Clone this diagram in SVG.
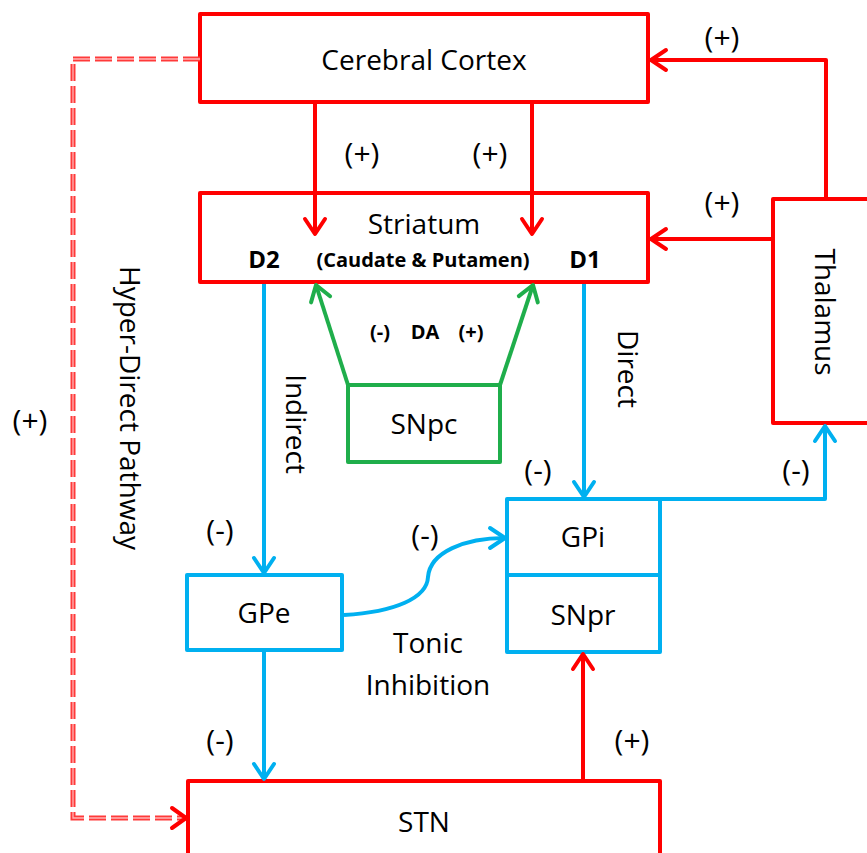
<svg xmlns="http://www.w3.org/2000/svg" width="867" height="853" viewBox="0 0 867 853">
<style>
.t{font-family:"Open Sans","Liberation Sans",sans-serif;fill:#000;text-anchor:middle}
.big{font-size:28px}
.sg{font-size:30px}
.b{font-weight:bold}
.red{stroke:#ff0000}
.blue{stroke:#00b0f0}
.green{stroke:#1fae4b}
.box{fill:#fff;stroke-width:4;stroke-linejoin:round}
.ln{fill:none;stroke-width:4;stroke-linejoin:round}
</style>
<defs>
<marker id="ar" markerUnits="userSpaceOnUse" markerWidth="40" markerHeight="40" refX="0" refY="0" viewBox="-20 -20 40 40" orient="auto" overflow="visible"><path d="M-15,-10 L0,0 L-15,10" fill="none" stroke="#ff0000" stroke-width="4" stroke-linecap="round" stroke-linejoin="round"/></marker>
<marker id="ab" markerUnits="userSpaceOnUse" markerWidth="40" markerHeight="40" refX="0" refY="0" viewBox="-20 -20 40 40" orient="auto" overflow="visible"><path d="M-15,-10 L0,0 L-15,10" fill="none" stroke="#00b0f0" stroke-width="4" stroke-linecap="round" stroke-linejoin="round"/></marker>
<marker id="ag" markerUnits="userSpaceOnUse" markerWidth="40" markerHeight="40" refX="0" refY="0" viewBox="-20 -20 40 40" orient="auto" overflow="visible"><path d="M-15,-10 L0,0 L-15,10" fill="none" stroke="#1fae4b" stroke-width="4" stroke-linecap="round" stroke-linejoin="round"/></marker>
</defs>
<rect width="867" height="853" fill="#fff"/>

<g id="cortex">
  <rect x="200" y="14" width="448" height="88" class="box red"/>
  <text x="424" y="70" class="t big">Cerebral Cortex</text>
</g>
<g id="striatum">
  <rect x="200" y="193" width="448" height="89" class="box red"/>
  <text x="424" y="234" class="t big">Striatum</text>
  <text x="423" y="267" class="t b" font-size="20">(Caudate &amp; Putamen)</text>
  <text x="264" y="268" class="t b" font-size="24">D2</text>
  <text x="585" y="268" class="t b" font-size="24">D1</text>
</g>
<g id="thalamus">
  <rect x="773" y="199" width="110" height="224" class="box red"/>
  <text x="0" y="0" class="t big" transform="translate(815,312) rotate(90)">Thalamus</text>
</g>
<g id="snpc">
  <rect x="348" y="385" width="152" height="77" class="box green"/>
  <text x="424" y="434" class="t big">SNpc</text>
</g>
<g id="gpe">
  <rect x="187" y="575" width="155" height="75" class="box blue"/>
  <text x="264" y="623" class="t big">GPe</text>
</g>
<g id="gpi-snpr">
  <rect x="507" y="499" width="153" height="153" class="box blue"/>
  <line x1="507" y1="575" x2="660" y2="575" class="ln blue"/>
  <text x="583" y="547" class="t big">GPi</text>
  <text x="583" y="625" class="t big">SNpr</text>
</g>
<g id="stn">
  <rect x="188" y="781" width="472" height="100" class="box red"/>
  <text x="424" y="832" class="t big">STN</text>
</g>

<g id="connectors">
  <!-- hyper-direct dashed -->
  <polyline points="200,59 73,59 73,818 186,818" fill="none" stroke="#ff3a3a" stroke-width="5" stroke-dasharray="17 5"/>
  <polyline points="200,59 73,59 73,818 186,818" fill="none" stroke="#ffb4b4" stroke-width="1.3" stroke-dasharray="17 5"/>
  <path d="M172,808 L186,818 L172,828" fill="none" stroke="#ff0000" stroke-width="4" stroke-linecap="round" stroke-linejoin="round"/>
  <!-- cortex -> striatum -->
  <line x1="315" y1="104" x2="315" y2="234" class="ln red" marker-end="url(#ar)"/>
  <line x1="532" y1="104" x2="532" y2="234" class="ln red" marker-end="url(#ar)"/>
  <!-- thalamus -> cortex / striatum -->
  <polyline points="826,197 826,60 651,60" class="ln red" marker-end="url(#ar)"/>
  <line x1="771" y1="239" x2="651" y2="239" class="ln red" marker-end="url(#ar)"/>
  <!-- SNpc -> striatum -->
  <line x1="348" y1="385" x2="316" y2="285" class="ln green" marker-end="url(#ag)"/>
  <line x1="500" y1="385" x2="533" y2="285" class="ln green" marker-end="url(#ag)"/>
  <!-- indirect / direct -->
  <line x1="264" y1="284" x2="264" y2="573" class="ln blue" marker-end="url(#ab)"/>
  <line x1="584" y1="284" x2="584" y2="497" class="ln blue" marker-end="url(#ab)"/>
  <!-- GPi -> thalamus -->
  <polyline points="660,499 825,499 825,426" class="ln blue" marker-end="url(#ab)"/>
  <!-- GPe -> GPi tonic -->
  <path d="M344,615 C395,612 427,598 428,577 C430,552 465,538 505,538" class="ln blue" marker-end="url(#ab)"/>
  <!-- GPe -> STN -->
  <line x1="264" y1="652" x2="264" y2="779" class="ln blue" marker-end="url(#ab)"/>
  <!-- STN -> SNpr -->
  <line x1="583" y1="779" x2="583" y2="654" class="ln red" marker-end="url(#ar)"/>
</g>

<g id="labels">
  <text x="722" y="48" class="t sg">(+)</text>
  <text x="722" y="213" class="t sg">(+)</text>
  <text x="362" y="164" class="t sg">(+)</text>
  <text x="490" y="164" class="t sg">(+)</text>
  <text x="30" y="431" class="t sg">(+)</text>
  <text x="632" y="751" class="t sg">(+)</text>
  <text x="220" y="541" class="t sg">(-)</text>
  <text x="220" y="751" class="t sg">(-)</text>
  <text x="425" y="546" class="t sg">(-)</text>
  <text x="538" y="481" class="t sg">(-)</text>
  <text x="796" y="481" class="t sg">(-)</text>
  <text x="380" y="339" class="t b" font-size="20">(-)</text>
  <text x="425" y="339" class="t b" font-size="20">DA</text>
  <text x="471" y="339" class="t b" font-size="20">(+)</text>
  <text x="428" y="653" class="t big">Tonic</text>
  <text x="428" y="695" class="t big">Inhibition</text>
  <text x="0" y="0" class="t big" transform="translate(120,408) rotate(90)">Hyper-Direct Pathway</text>
  <text x="0" y="0" class="t big" transform="translate(286,424) rotate(90)">Indirect</text>
  <text x="0" y="0" class="t big" transform="translate(618,369) rotate(90)">Direct</text>
</g>
</svg>
